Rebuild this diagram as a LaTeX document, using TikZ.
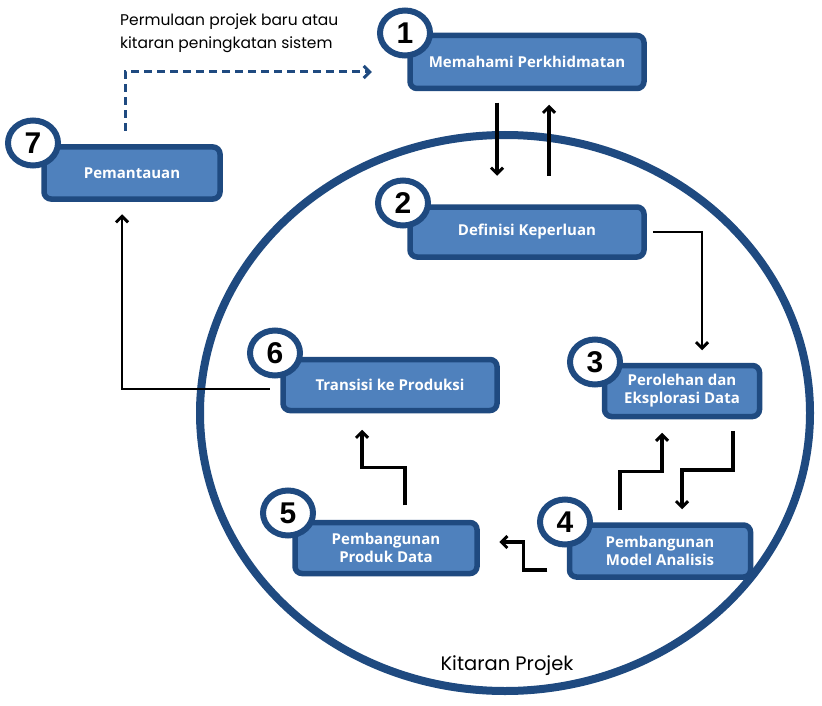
\documentclass[tikz,border=0pt]{standalone}
\usepackage{fontspec}
\usetikzlibrary{arrows.meta,calc,shapes.geometric}
\newfontfamily\boxfont{Open Sans}
\newfontfamily\numfont{Liberation Sans}
\newfontfamily\lblfont{Poppins}
\definecolor{boxfill}{HTML}{4F81BD}
\definecolor{boxline}{HTML}{1F4A80}
\tikzset{
  x=1pt, y=-1pt,
  stepbox/.style={draw=boxline, fill=boxfill, line width=5.5pt, rounded corners=7pt,
    text=white, font=\boxfont\bfseries\fontsize{15}{18}\selectfont, align=center, inner sep=0pt},
  numbadge/.style={ellipse, draw=boxline, fill=white, line width=6pt, minimum width=50pt,
    minimum height=45pt, inner sep=0pt, font=\numfont\bfseries\fontsize{30}{30}\selectfont},
  arr/.style={line width=3.2pt, -{Straight Barb[length=6pt,width=12pt,line width=3pt]}},
  thinarr/.style={line width=2.2pt, -{Straight Barb[length=6pt,width=12pt,line width=3pt]}},
}
\begin{document}
\begin{tikzpicture}
\useasboundingbox (0,0) rectangle (822,706);
% big cycle
\draw[boxline, line width=8pt] (505,413) ellipse [x radius=305, y radius=278];

% boxes
\node[stepbox, minimum width=234pt, minimum height=53pt] (b1) at (527,62) {Memahami Perkhidmatan};
\node[stepbox, minimum width=176pt, minimum height=52pt] (b7) at (132,173) {Pemantauan};
\node[stepbox, minimum width=234pt, minimum height=50pt] (b2) at (527,232) {Definisi Keperluan};
\node[stepbox, minimum width=155pt, minimum height=51pt] (b3) at (682,391) {Perolehan dan\\Eksplorasi Data};
\node[stepbox, minimum width=181pt, minimum height=52pt] (b4) at (660,551) {Pembangunan\\Model Analisis};
\node[stepbox, minimum width=182pt, minimum height=51pt] (b5) at (386,548) {Pembangunan\\Produk Data};
\node[stepbox, minimum width=214pt, minimum height=51pt] (b6) at (390,385) {Transisi ke Produksi};

% number badges
\node[numbadge] (n1) at (405,33) {1};
\node[numbadge] (n7) at (33,143) {7};
\node[numbadge] (n2) at (403,203) {2};
\node[numbadge] (n3) at (595,362) {3};
\node[numbadge] (n4) at (565,522) {4};
\node[numbadge] (n5) at (288,513) {5};
\node[numbadge] (n6) at (275,353) {6};

% labels
\node[anchor=north west, align=left, inner sep=0pt, font=\lblfont\fontsize{15.5}{23}\selectfont] (lbl) at (120,14)
  {Permulaan projek baru atau\\kitaran peningkatan sistem};
\node[inner sep=0pt, font=\lblfont\fontsize{19.5}{22}\selectfont] (cyc) at (507,666) {Kitaran Projek};

% connectors
\draw[arr] ([xshift=-30pt,yshift=-11.5pt]b1.south) -- ([xshift=-30pt,yshift=28.5pt]b2.north);
\draw[arr] ([xshift=22pt,yshift=28.5pt]b2.north) -- ([xshift=22pt,yshift=-13.5pt]b1.south);
\draw[thinarr] ([xshift=6pt]b2.east) -| ([xshift=20pt,yshift=12.5pt]b3.north);

\coordinate (s34) at ([xshift=51pt,yshift=-11.5pt]b3.south);
\coordinate (e34) at ([xshift=22pt,yshift=13pt]b4.north);
\draw[arr] (s34) |- ($(s34)!.5!(e34)$) -| (e34);

\coordinate (s43) at ([xshift=-40pt,yshift=12pt]b4.north);
\coordinate (e43) at ([xshift=-20pt,yshift=-13.5pt]b3.south);
\draw[arr] (s43) |- ($(s43)!.5!(e43)$) -| (e43);

\coordinate (s45) at ([xshift=-19.5pt,yshift=-19pt]b4.west);
\coordinate (e45) at ([xshift=19.5pt,yshift=6pt]b5.east);
\draw[arr] (s45) -| ($(s45)!.5!(e45)$) |- (e45);

\coordinate (s56) at ([xshift=19pt,yshift=14.5pt]b5.north);
\coordinate (e56) at ([xshift=-28pt,yshift=-16.5pt]b6.south);
\draw[arr] (s56) |- ($(s56)!.5!(e56)$) -| (e56);

\draw[thinarr] ([xshift=-10.5pt,yshift=-4pt]b6.west) -| ([xshift=-10pt,yshift=-12.5pt]b7.south);

\draw[boxline, line width=3pt, dash pattern=on 8pt off 5pt, -{Straight Barb[length=6pt,width=12pt,line width=3pt]}]
  ([xshift=-7pt,yshift=13.5pt]b7.north) |- ([xshift=-35.5pt,yshift=-10pt]b1.west);
\end{tikzpicture}
\end{document}
